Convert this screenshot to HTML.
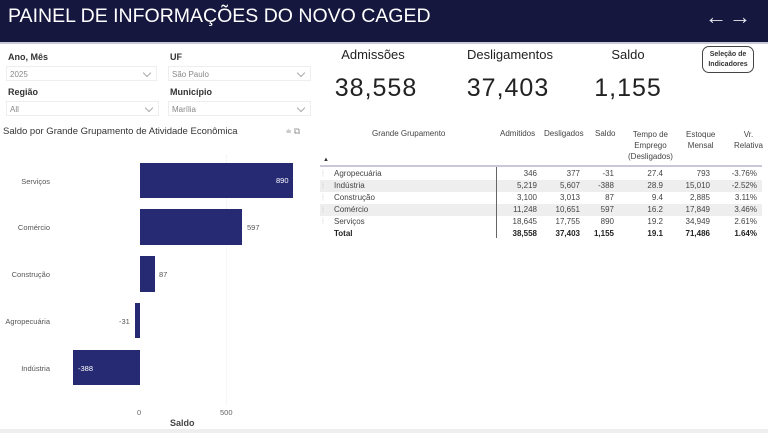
<!DOCTYPE html><html><head><style>
body{margin:0;width:768px;height:433px;background:#fff;font-family:"Liberation Sans",sans-serif;position:relative;overflow:hidden;color:#333}
.a{position:absolute;white-space:nowrap}
.lbl{font-size:9px;font-weight:bold;color:#333}
.dd{position:absolute;height:15px;border:1px solid #eee;font-size:8px;color:#888;line-height:15px;padding-left:3px;box-sizing:border-box}
.dd:after{content:"";position:absolute;right:6px;top:3px;width:5px;height:5px;border-right:1px solid #aaa;border-bottom:1px solid #aaa;transform:rotate(45deg)}
.k{font-size:13px;color:#222;text-align:center}
.big{font-size:25px;color:#222;text-align:center;letter-spacing:1px}
.r{position:absolute;left:320px;width:442px;height:12px;font-size:8px;color:#444}
.r span{position:absolute;text-align:right;top:1px}
.bar{position:absolute;background:#262a73}
.cat{font-size:7.5px;color:#555;text-align:right;width:60px}
</style></head><body>
<div class="a" style="left:0;top:0;width:768px;height:42px;background:#15173f"></div>
<div class="a" style="left:8px;top:5px;font-size:19.5px;color:#fff">PAINEL DE INFORMAÇÕES DO NOVO CAGED</div>
<div class="a" style="left:705px;top:4px;font-size:22px;color:#e8e8f0;letter-spacing:2px">←→</div>
<div class="a" style="left:0;top:42px;width:768px;height:2px;background:#c8c8d8"></div>

<div class="a lbl" style="left:8px;top:52px">Ano, Mês</div>
<div class="dd" style="left:6px;top:66px;width:151px">2025</div>
<div class="a lbl" style="left:8px;top:87px">Região</div>
<div class="dd" style="left:6px;top:101px;width:153px">All</div>
<div class="a lbl" style="left:170px;top:52px">UF</div>
<div class="dd" style="left:168px;top:66px;width:143px">São Paulo</div>
<div class="a lbl" style="left:170px;top:87px">Município</div>
<div class="dd" style="left:168px;top:101px;width:143px">Marília</div>

<div class="a k" style="left:330px;top:47px;width:86px">Admissões</div>
<div class="a k" style="left:455px;top:47px;width:110px">Desligamentos</div>
<div class="a k" style="left:598px;top:47px;width:60px">Saldo</div>
<div class="a big" style="left:326px;top:74px;width:100px">38,558</div>
<div class="a big" style="left:458px;top:74px;width:100px">37,403</div>
<div class="a big" style="left:593px;top:74px;width:70px">1,155</div>
<div class="a" style="left:702px;top:46px;width:52px;height:27px;border:1.5px solid #444;border-radius:7px;font-size:7px;font-weight:bold;text-align:center;line-height:10px;padding-top:3px;box-sizing:border-box">Seleção de<br>Indicadores</div>

<div class="a" style="left:3px;top:126px;font-size:9.5px;color:#333">Saldo por Grande Grupamento de Atividade Econômica</div>
<div class="a" style="left:286px;top:126px;font-size:9px;color:#999">⩧ ⧉</div>

<div class="a" style="left:226px;top:155px;width:0;height:250px;border-left:1px dotted #eee"></div>
<div class="bar" style="left:140px;top:163px;width:153px;height:35px"></div>
<div class="bar" style="left:140px;top:209px;width:102px;height:36px"></div>
<div class="bar" style="left:140px;top:256px;width:15px;height:36px"></div>
<div class="bar" style="left:135px;top:303px;width:5px;height:35px"></div>
<div class="bar" style="left:73px;top:350px;width:67px;height:35px"></div>
<div class="a cat" style="left:-10px;top:177px">Serviços</div>
<div class="a cat" style="left:-10px;top:223px">Comércio</div>
<div class="a cat" style="left:-10px;top:270px">Construção</div>
<div class="a cat" style="left:-10px;top:317px">Agropecuária</div>
<div class="a cat" style="left:-10px;top:364px">Indústria</div>
<div class="a" style="left:276px;top:176px;font-size:7.5px;color:#fff">890</div>
<div class="a" style="left:247px;top:223px;font-size:7.5px;color:#555">597</div>
<div class="a" style="left:159px;top:270px;font-size:7.5px;color:#555">87</div>
<div class="a" style="left:119px;top:317px;font-size:7.5px;color:#555">-31</div>
<div class="a" style="left:78px;top:364px;font-size:7.5px;color:#fff">-388</div>
<div class="a" style="left:137px;top:408px;font-size:7.5px;color:#666">0</div>
<div class="a" style="left:220px;top:408px;font-size:7.5px;color:#666">500</div>
<div class="a" style="left:170px;top:418px;font-size:9px;font-weight:bold;color:#444">Saldo</div>
<div class="a" style="left:0;top:429px;width:768px;height:4px;background:#eee"></div>

<div class="a" style="left:372px;top:129px;font-size:8px;color:#444">Grande Grupamento</div>
<div class="a" style="left:500px;top:129px;font-size:8px;color:#444">Admitidos</div>
<div class="a" style="left:544px;top:129px;font-size:8px;color:#444">Desligados</div>
<div class="a" style="left:595px;top:129px;font-size:8px;color:#444">Saldo</div>
<div class="a" style="left:628px;top:129px;font-size:8px;color:#444;text-align:center;line-height:11px">Tempo de<br>Emprego<br>(Desligados)</div>
<div class="a" style="left:686px;top:129px;font-size:8px;color:#444;text-align:center;line-height:11px">Estoque<br>Mensal</div>
<div class="a" style="left:734px;top:129px;font-size:8px;color:#444;text-align:center;line-height:11px">Vr.<br>Relativa</div>
<div class="a" style="left:323px;top:157px;font-size:6px">▲</div>
<div class="a" style="left:320px;top:165px;width:442px;height:2px;background:#c8c8d8"></div>

<div class="r" style="top:168px"><span style="left:2px;color:#aaa">⦙</span><span style="left:14px">Agropecuária</span><span style="right:225px">346</span><span style="right:182px">377</span><span style="right:148px">-31</span><span style="right:99px">27.4</span><span style="right:52px">793</span><span style="right:5px">-3.76%</span></div>
<div class="r" style="top:180px;background:#eee"><span style="left:2px;color:#aaa">⦙</span><span style="left:14px">Indústria</span><span style="right:225px">5,219</span><span style="right:182px">5,607</span><span style="right:148px">-388</span><span style="right:99px">28.9</span><span style="right:52px">15,010</span><span style="right:5px">-2.52%</span></div>
<div class="r" style="top:192px"><span style="left:2px;color:#aaa">⦙</span><span style="left:14px">Construção</span><span style="right:225px">3,100</span><span style="right:182px">3,013</span><span style="right:148px">87</span><span style="right:99px">9.4</span><span style="right:52px">2,885</span><span style="right:5px">3.11%</span></div>
<div class="r" style="top:204px;background:#eee"><span style="left:2px;color:#aaa">⦙</span><span style="left:14px">Comércio</span><span style="right:225px">11,248</span><span style="right:182px">10,651</span><span style="right:148px">597</span><span style="right:99px">16.2</span><span style="right:52px">17,849</span><span style="right:5px">3.46%</span></div>
<div class="r" style="top:216px"><span style="left:2px;color:#aaa">⦙</span><span style="left:14px">Serviços</span><span style="right:225px">18,645</span><span style="right:182px">17,755</span><span style="right:148px">890</span><span style="right:99px">19.2</span><span style="right:52px">34,949</span><span style="right:5px">2.61%</span></div>
<div class="r" style="top:228px;font-weight:bold;color:#222"><span style="left:14px">Total</span><span style="right:225px">38,558</span><span style="right:182px">37,403</span><span style="right:148px">1,155</span><span style="right:99px">19.1</span><span style="right:52px">71,486</span><span style="right:5px">1.64%</span></div>
<div class="a" style="left:496px;top:167px;width:1px;height:71px;background:#666"></div>
</body></html>
